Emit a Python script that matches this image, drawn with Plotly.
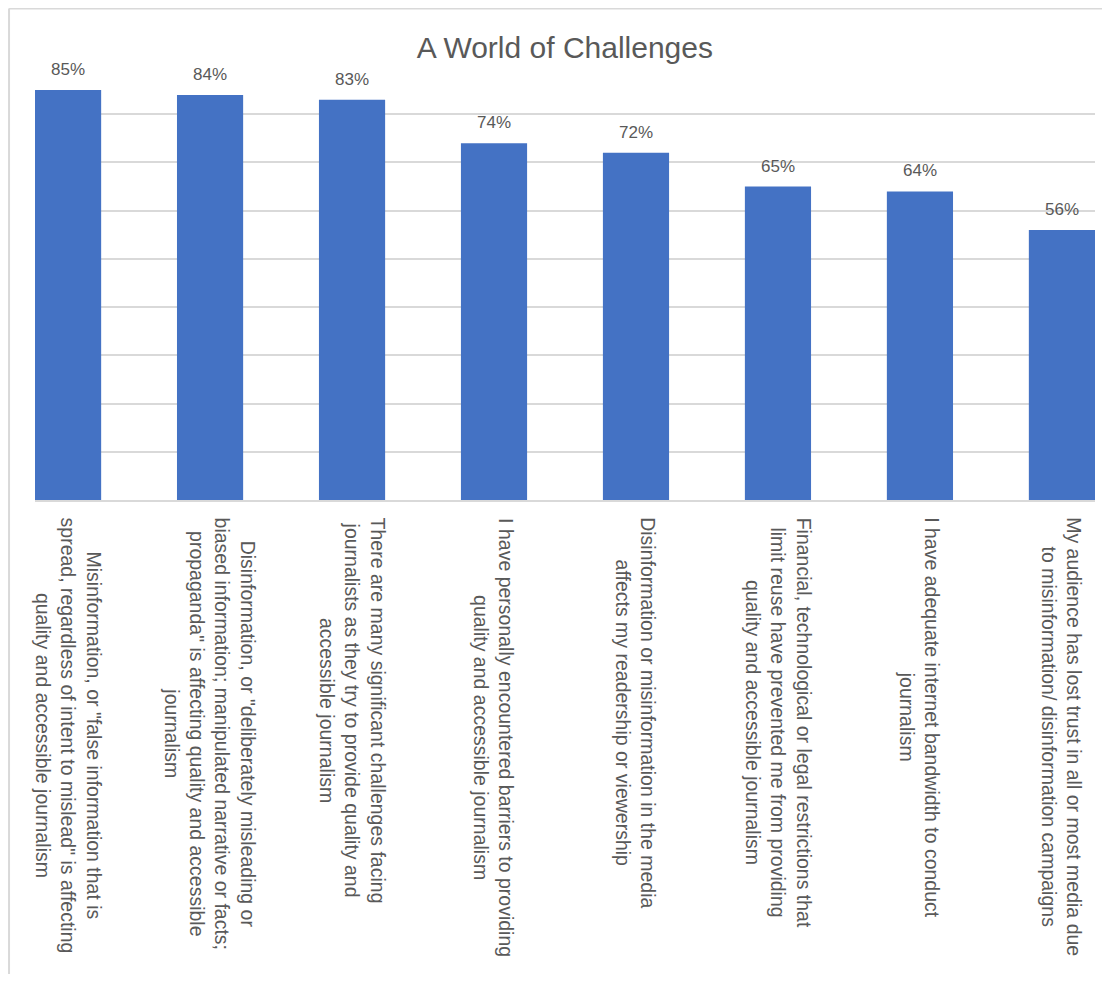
import plotly.graph_objects as go

title_text = "A World of Challenges"
categories = [
    'Misinformation, or "false information that is<br>spread, regardless of intent to mislead" is affecting<br>quality and accessible journalism',
    'Disinformation, or "deliberately misleading or<br>biased information; manipulated narrative or facts;<br>propaganda" is affecting quality and accessible<br>journalism',
    'There are many significant challenges facing<br>journalists as they try to provide quality and<br>accessible journalism',
    'I have personally encountered barriers to providing<br>quality and accessible journalism',
    'Disinformation or misinformation in the media<br>affects my readership or viewership',
    'Financial, technological or legal restrictions that<br>limit reuse have prevented me from providing<br>quality and accessible journalism',
    'I have adequate internet bandwidth to conduct<br>journalism',
    'My audience has lost trust in all or most media due<br>to misinformation/ disinformation campaigns',
]
values = [85, 84, 83, 74, 72, 65, 64, 56]
value_labels = [f"{v}%" for v in values]
y_ticks = [0, 10, 20, 30, 40, 50, 60, 70, 80, 90]

BAR = "#4472C4"
TXT = "#595959"
GRID = "#D9D9D9"
FONT = "Liberation Sans"

fig = go.Figure()
fig.add_trace(go.Bar(
    x=categories, y=values,
    marker=dict(color=BAR, line=dict(width=0)),
    width=0.466,
    hoverinfo="x+y",
))

for c, v, lab in zip(categories, values, value_labels):
    fig.add_annotation(
        x=c, y=v, xref="x", yref="y", text=lab, showarrow=False,
        xanchor="center", yanchor="bottom", yshift=9,
        font=dict(family=FONT, size=17, color=TXT),
    )
    fig.add_annotation(
        x=c, y=-0.036, xref="x", yref="paper",
        text=c, textangle=90, showarrow=False,
        xanchor="center", yanchor="top", align="center",
        font=dict(family=FONT, size=19.5, color=TXT),
    )

fig.add_shape(type="line", xref="paper", yref="paper",
              x0=-0.0245, x1=1.02, y0=1.1325, y1=1.1325,
              line=dict(color=GRID, width=2))
fig.add_shape(type="line", xref="paper", yref="paper",
              x0=-0.0245, x1=-0.0245, y0=1.1325, y1=-1.2,
              line=dict(color=GRID, width=2))

fig.update_layout(
    width=1094, height=966,
    margin=dict(l=27, r=7, t=58, b=474),
    paper_bgcolor="white", plot_bgcolor="white",
    showlegend=False,
    title=dict(text=title_text, x=0.509, xanchor="center", y=0.9586, yanchor="middle",
               font=dict(family=FONT, size=30, color=TXT)),
    xaxis=dict(showticklabels=False, showgrid=False, ticks="",
               showline=True, linecolor=GRID, linewidth=1.5,
               range=[-0.233, 7.233]),
    yaxis=dict(range=[0, 90], tickvals=y_ticks, showticklabels=False,
               showgrid=True, gridcolor=GRID, gridwidth=1.5, zeroline=False,
               showline=False, ticks=""),
    bargap=0.53,
)

fig.write_html("out.html")
